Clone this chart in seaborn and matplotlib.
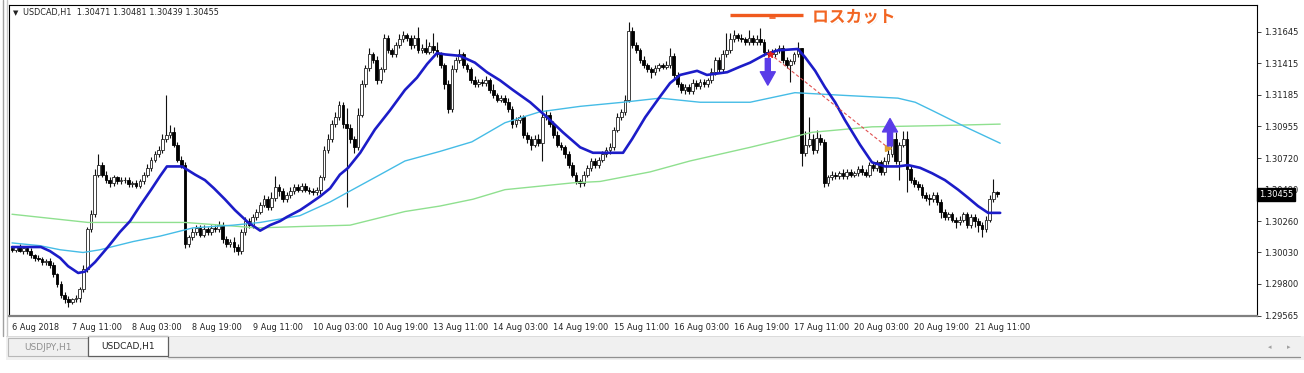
import numpy as np
import pandas as pd
import matplotlib
matplotlib.use("Agg")
import matplotlib.pyplot as plt
import matplotlib.patheffects as pe
from matplotlib.patches import Rectangle
from matplotlib.lines import Line2D
import seaborn as sns

sns.set_style("white")
plt.rcParams['font.family'] = ['DejaVu Sans', 'Noto Sans CJK JP']

# ---------------- data (USDCAD H1, 6 Aug 19:00 -> 21 Aug 17:00) ----------------
first_open = 1.3006
close = [
    1.3005, 1.3007, 1.3004, 1.3006, 1.3004, 1.3001, 1.2999, 1.2998, 1.2996, 1.2997,
    1.2994, 1.2987, 1.2980, 1.2972, 1.2969, 1.2967, 1.2969, 1.2970, 1.2976, 1.2991,
    1.3020, 1.3031, 1.3060, 1.3067, 1.3060, 1.3056, 1.3054, 1.3058, 1.3055, 1.3056,
    1.3056, 1.3053, 1.3054, 1.3052, 1.3055, 1.3060, 1.3065, 1.3071, 1.3075, 1.3078,
    1.3086, 1.3089, 1.3091, 1.3082, 1.3071, 1.3067, 1.3009, 1.3014, 1.3018, 1.3021,
    1.3016, 1.3020, 1.3018, 1.3021, 1.3020, 1.3023, 1.3013, 1.3009, 1.3011, 1.3007,
    1.3004, 1.3018, 1.3026, 1.3023, 1.3029, 1.3033, 1.3038, 1.3042, 1.3036, 1.3043,
    1.3051, 1.3048, 1.3042, 1.3045, 1.3048, 1.3051, 1.3049, 1.3052, 1.3049, 1.3048,
    1.3047, 1.3049, 1.3058, 1.3078, 1.3086, 1.3097, 1.3102, 1.3111, 1.3097, 1.3094,
    1.3086, 1.3080, 1.3104, 1.3126, 1.3138, 1.3148, 1.3144, 1.3129, 1.3137, 1.3160,
    1.3151, 1.3148, 1.3155, 1.3159, 1.3162, 1.3160, 1.3155, 1.3160, 1.3151, 1.3153,
    1.3150, 1.3154, 1.3151, 1.3148, 1.3140, 1.3126, 1.3108, 1.3137, 1.3144, 1.3148,
    1.3140, 1.3137, 1.3129, 1.3126, 1.3128, 1.3127, 1.3129, 1.3122, 1.3118, 1.3115,
    1.3116, 1.3113, 1.3108, 1.3097, 1.3100, 1.3102, 1.3089, 1.3086, 1.3082, 1.3086,
    1.3083, 1.3102, 1.3104, 1.3097, 1.3089, 1.3082, 1.3080, 1.3075, 1.3067, 1.3060,
    1.3055, 1.3054, 1.3060, 1.3065, 1.3070, 1.3067, 1.3071, 1.3075, 1.3078, 1.3080,
    1.3093, 1.3102, 1.3106, 1.3115, 1.3165, 1.3155, 1.3151, 1.3144, 1.3140, 1.3137,
    1.3135, 1.3138, 1.3140, 1.3139, 1.3140, 1.3147, 1.3133, 1.3126, 1.3122, 1.3124,
    1.3121, 1.3127, 1.3125, 1.3128, 1.3126, 1.3129, 1.3135, 1.3144, 1.3137, 1.3148,
    1.3151, 1.3159, 1.3162, 1.3160, 1.3159, 1.3157, 1.3160, 1.3157, 1.3159, 1.3157,
    1.3150, 1.3149, 1.3148, 1.3151, 1.3153, 1.3144, 1.3140, 1.3143, 1.3148, 1.3153,
    1.3076, 1.3082, 1.3086, 1.3078, 1.3087, 1.3084, 1.3054, 1.3058, 1.3060, 1.3059,
    1.3061, 1.3059, 1.3062, 1.3060, 1.3061, 1.3064, 1.3062, 1.3060, 1.3067, 1.3065,
    1.3069, 1.3062, 1.3070, 1.3075, 1.3086, 1.3070, 1.3082, 1.3086, 1.3064, 1.3056,
    1.3053, 1.3051, 1.3045, 1.3043, 1.3042, 1.3045, 1.3040, 1.3033, 1.3029, 1.3031,
    1.3027, 1.3025, 1.3027, 1.3031, 1.3023, 1.3029, 1.3026, 1.3023, 1.3020, 1.3027,
    1.3042, 1.3047, 1.30455,
]
upper_wick_pips = [
    2, 1, 2, 2, 1, 2, 1, 2, 2, 1,   2, 2, 1, 2, 2, 2, 1, 2, 2, 3,
    2, 3, 4, 8, 2, 3, 2, 2, 1, 2,   2, 2, 1, 2, 2, 2, 3, 2, 2, 3,
    4, 29, 5, 4, 2, 3, 2, 2, 3, 2,  2, 3, 2, 2, 2, 3, 2, 2, 2, 3,
    2, 2, 3, 2, 2, 2, 2, 3, 2, 4,   8, 2, 2, 2, 3, 2, 2, 2, 2, 2,
    2, 2, 2, 3, 4, 3, 4, 3, 2, 12,  3, 2, 5, 3, 2, 5, 2, 3, 2, 3,
    2, 2, 2, 4, 3, 2, 2, 2, 8, 3,   6, 3, 10, 6, 2, 2, 3, 3, 2, 4,
    2, 2, 2, 3, 2, 2, 3, 2, 4, 2,   2, 2, 3, 2, 2, 2, 2, 2, 2, 3,
    4, 16, 3, 2, 2, 3, 2, 2, 2, 2,  2, 2, 3, 2, 2, 2, 2, 2, 2, 3,
    2, 3, 2, 3, 7, 3, 2, 2, 3, 2,   2, 2, 2, 2, 3, 6, 2, 2, 2, 2,
    2, 3, 2, 2, 2, 2, 3, 2, 2, 3,   13, 5, 4, 2, 3, 2, 6, 2, 3, 8,
    2, 2, 3, 2, 2, 2, 2, 2, 2, 4,   0, 10, 16, 4, 6, 3, 2, 2, 3, 2,
    2, 3, 2, 2, 2, 2, 3, 2, 2, 2,   2, 2, 3, 5, 5, 5, 2, 6, 6, 2,
    2, 2, 2, 2, 3, 2, 2, 2, 2, 2,   2, 2, 3, 2, 2, 2, 2, 2, 2, 3,
    3, 10, 1,
]
lower_wick_pips = [
    2, 2, 1, 2, 2, 2, 2, 1, 2, 2,   2, 2, 2, 2, 3, 4, 2, 2, 3, 2,
    2, 2, 2, 2, 2, 2, 3, 2, 2, 2,   2, 2, 2, 2, 2, 2, 2, 2, 2, 2,
    2, 2, 2, 2, 2, 2, 3, 2, 2, 2,   2, 2, 2, 2, 2, 2, 3, 2, 2, 4,
    3, 2, 2, 2, 2, 2, 2, 2, 2, 2,   2, 4, 2, 2, 2, 2, 2, 2, 2, 2,
    2, 2, 3, 2, 2, 2, 2, 2, 3, 58,  3, 4, 2, 2, 2, 2, 2, 3, 2, 2,
    2, 2, 2, 2, 2, 2, 3, 2, 2, 2,   2, 2, 2, 2, 2, 3, 3, 2, 2, 2,
    2, 2, 2, 2, 2, 2, 2, 2, 2, 2,   2, 2, 2, 3, 2, 2, 2, 3, 4, 2,
    2, 13, 2, 2, 2, 2, 2, 3, 2, 2,  2, 3, 2, 2, 2, 2, 2, 2, 2, 3,
    2, 2, 2, 2, 2, 2, 2, 2, 2, 2,   4, 2, 2, 2, 2, 2, 2, 2, 2, 3,
    2, 2, 2, 2, 2, 2, 2, 2, 2, 2,   2, 2, 2, 2, 2, 2, 2, 2, 2, 2,
    3, 2, 2, 2, 2, 2, 2, 12, 2, 2,  10, 2, 2, 3, 2, 2, 3, 2, 2, 2,
    2, 2, 2, 2, 2, 2, 2, 2, 2, 2,   2, 2, 2, 2, 2, 2, 14, 2, 17, 2,
    2, 2, 2, 2, 4, 2, 2, 5, 2, 2,   2, 4, 2, 2, 2, 2, 4, 5, 6, 2,
    2, 2, 2,
]

# moving averages (values read at knots along each drawn line)
ma_fast_bars = [0, 5.6, 7.7, 10.1, 12.8, 14.9, 17.6, 19.4, 22.1, 25.5, 28.7, 31.4, 34.0,
                37.0, 39.4, 41.2, 45.2, 48.7, 51.3, 53.7, 56.6, 59.3, 62.8, 66.0, 68.6,
                71.3, 73.1, 76.6, 79.3, 81.9, 84.6, 87.2, 89.4, 92.6, 96.5, 100.5, 104.5,
                107.7, 110.4, 113.0, 115.2, 119.1, 123.1, 126.3, 129.8, 133.2, 137.8,
                142.3, 146.5, 151.1, 154.5, 162.5, 164.9, 168.4, 172.3, 175.0, 177.7,
                182.2, 184.8, 187.5, 190.2, 193.6, 196.3, 200.3, 203.7, 209.0, 210.9,
                213.6, 216.2, 218.9, 221.5, 225.5, 228.7, 232.2, 235.6, 238.3, 241.5,
                244.7, 248.1, 251.6, 254.3, 256.9, 259.6, 262.8]
ma_fast_vals = [1.3007, 1.3007, 1.3007, 1.3004, 1.2999, 1.2993, 1.2988, 1.2989, 1.2996,
                1.3007, 1.3018, 1.3026, 1.3037, 1.3049, 1.3059, 1.3066, 1.3066, 1.3060,
                1.3056, 1.3050, 1.3042, 1.3034, 1.3025, 1.3019, 1.3023, 1.3026, 1.3029,
                1.3034, 1.3039, 1.3044, 1.3050, 1.3060, 1.3065, 1.3076, 1.3093, 1.3107,
                1.3122, 1.3131, 1.3141, 1.3149, 1.3148, 1.3147, 1.3142, 1.3135, 1.3129,
                1.3122, 1.3113, 1.3102, 1.3091, 1.3080, 1.3076, 1.3076, 1.3086, 1.3102,
                1.3117, 1.3127, 1.3133, 1.3136, 1.3133, 1.3134, 1.3135, 1.3139, 1.3142,
                1.3148, 1.3151, 1.3152, 1.3146, 1.3136, 1.3124, 1.3113, 1.3100, 1.3082,
                1.3069, 1.3066, 1.3066, 1.3067, 1.3065, 1.3061, 1.3056, 1.3049, 1.3043,
                1.3037, 1.3032, 1.3032]
ma_mid_bars = [0, 7.4, 12.8, 18.9, 23.4, 32.2, 39.4, 48.1, 58.8, 66.0, 76.6, 84.6, 89.9,
               97.9, 104.5, 113.8, 122.3, 131.1, 140.4, 151.1, 162.5, 172.3, 183.0, 196.3,
               208.2, 221.5, 235.6, 240.2, 244.7, 253.5, 262.8]
ma_mid_vals = [1.3010, 1.3008, 1.3005, 1.3003, 1.3005, 1.3011, 1.3015, 1.3021, 1.3023,
               1.3025, 1.3030, 1.3040, 1.3048, 1.3060, 1.3070, 1.3077, 1.3084, 1.3098,
               1.3106, 1.3110, 1.3113, 1.3116, 1.3113, 1.3113, 1.3120, 1.3118, 1.3116,
               1.3113, 1.3107, 1.3095, 1.3083]
ma_slow_bars = [0, 10.1, 20.2, 46.0, 65.4, 76.6, 89.9, 104.5, 113.8, 122.6, 131.1, 149.2,
                156.4, 169.7, 180.3, 196.3, 212.8, 228.7, 248.1, 262.8]
ma_slow_vals = [1.3031, 1.3028, 1.3025, 1.3025, 1.3021, 1.3022, 1.3023, 1.3033, 1.3037,
                1.3042, 1.3049, 1.3054, 1.3055, 1.3062, 1.3070, 1.3080, 1.3091, 1.3095,
                1.3096, 1.3097]

time_tick_bars = [0, 16, 32, 48, 64, 80, 96, 112, 128, 144, 160, 176, 192, 208, 224, 240, 256]
time_tick_labels = ["6 Aug 2018", "7 Aug 11:00", "8 Aug 03:00", "8 Aug 19:00",
                    "9 Aug 11:00", "10 Aug 03:00", "10 Aug 19:00", "13 Aug 11:00",
                    "14 Aug 03:00", "14 Aug 19:00", "15 Aug 11:00", "16 Aug 03:00",
                    "16 Aug 19:00", "17 Aug 11:00", "20 Aug 03:00", "20 Aug 19:00",
                    "21 Aug 11:00"]
price_ticks = [1.31645, 1.31415, 1.31185, 1.30955, 1.30720, 1.30490, 1.30260,
               1.30030, 1.29800, 1.29565]
current_price = 1.30455
header = "USDCAD,H1  1.30471 1.30481 1.30439 1.30455"
tab_labels = ["USDJPY,H1", "USDCAD,H1"]

# ---------------- figure ----------------
W, H = 1304, 373
fig = plt.figure(figsize=(W / 100, H / 100), dpi=100)
fig.patch.set_facecolor("white")


def fx(px):
    return px / W


def fy(py):
    return 1 - py / H


ax = fig.add_axes([fx(9), fy(316), fx(1257 - 9), (316 - 5) / H])
ax.set_facecolor("white")

c = np.array(close)
o = np.r_[first_open, c[:-1]]
hi = np.maximum(o, c) + np.array(upper_wick_pips) * 1e-4
lo = np.minimum(o, c) - np.array(lower_wick_pips) * 1e-4
xb = np.arange(len(c))
bull = c >= o
bottom = np.minimum(o, c)
height = np.maximum(np.abs(c - o), 0.00003)

ax.vlines(xb, lo, hi, color="#111111", lw=0.8, zorder=2)
ax.bar(xb[bull], height[bull], bottom=bottom[bull], width=0.72, color="white",
       edgecolor="#222222", linewidth=0.6, zorder=3)
ax.bar(xb[~bull], height[~bull], bottom=bottom[~bull], width=0.72, color="black",
       edgecolor="black", linewidth=0.6, zorder=3)

sns.lineplot(x=ma_slow_bars, y=ma_slow_vals, ax=ax, color="#8FE08F", lw=1.0, zorder=4)
sns.lineplot(x=ma_mid_bars, y=ma_mid_vals, ax=ax, color="#45BCE6", lw=1.0, zorder=4)
sns.lineplot(x=ma_fast_bars, y=ma_fast_vals, ax=ax, color="#1C1CC8", lw=1.9, zorder=5)

ax.set_xlim(-0.8, 331.1)
ax.set_ylim(1.29567, 1.31842)

# axes / ticks
for s in ["top", "left", "right"]:
    ax.spines[s].set_color("black")
    ax.spines[s].set_linewidth(0.8)
ax.spines["bottom"].set_color("#808080")
ax.spines["bottom"].set_linewidth(1.6)

ax.yaxis.tick_right()
ax.set_yticks(price_ticks)
ax.set_yticklabels([f"{p:.5f}" for p in price_ticks])
ax.tick_params(axis="y", direction="out", length=3, width=0.6, pad=2,
               labelsize=6.0, colors="#222222")
ax.set_xticks(time_tick_bars)
ax.set_xticklabels(time_tick_labels, ha="left")
ax.tick_params(axis="x", direction="out", length=3, width=0.6, pad=2,
               labelsize=5.9, colors="#222222")
ax.set_xlabel("")
ax.set_ylabel("")
ax.grid(False)

# current price box
ax.text(1.0015, current_price, f"{current_price:.5f}", transform=ax.get_yaxis_transform(),
        ha="left", va="center", fontsize=6.0, color="white", clip_on=False, zorder=10,
        bbox=dict(boxstyle="square,pad=0.2", fc="black", ec="black"))

# header
fig.text(fx(13), fy(13), "\u25BC", fontsize=5, color="#222222", va="center", ha="left")
fig.text(fx(23), fy(13), header, fontsize=5.9, color="#222222", va="center", ha="left")

# annotations: stop-loss line and text
ax.plot([191, 210.4], [1.31769, 1.31769], color="#F05A1E", lw=2.4, solid_capstyle="butt", zorder=6)
ax.plot([201.6, 203], [1.31745, 1.31745], color="#F05A1E", lw=1.2, zorder=6)
ax.text(212.8, 1.31752, "ロスカット", family=["Noto Sans CJK JP"], fontsize=12,
        fontweight="bold", color="#F26522", va="center", ha="left", zorder=7,
        path_effects=[pe.withSimplePatchShadow(offset=(1, -1), shadow_rgbFace="#bbbbbb", alpha=0.6),
                      pe.withStroke(linewidth=2.5, foreground="white")])

# trade line and arrows
ax.plot([201.6, 233], [1.31484, 1.30797], color="#E05050", lw=0.8, ls=(0, (3, 2)), zorder=6)
ax.plot([201.6], [1.31484], marker="*", color="#E02020", ms=5, zorder=7)
ax.plot([233], [1.30797], marker=">", color="#E0A030", ms=4, zorder=7)
arrow_kw = dict(arrowstyle="simple,head_length=0.8,head_width=0.9,tail_width=0.3",
                color="#5A3CE8", mutation_scale=12)
ax.annotate("", xy=(201, 1.31235), xytext=(201, 1.31470), arrowprops=arrow_kw, zorder=8)
ax.annotate("", xy=(233.5, 1.31031), xytext=(233.5, 1.30790), arrowprops=arrow_kw, zorder=8)

# window frame on the left
fig.add_artist(Line2D([fx(3), fx(3)], [fy(0), fy(336)], color="#a0a0a0", lw=1.0))
fig.add_artist(Line2D([fx(6.5), fx(6.5)], [fy(0), fy(336)], color="#c8c8c8", lw=1.0))

# tab bar
fig.add_artist(Rectangle((fx(6), fy(360)), fx(1298), (360 - 336) / H, transform=fig.transFigure,
                         fc="#f0f0f0", ec="none", zorder=0))
fig.add_artist(Rectangle((fx(8), fy(356)), fx(80), 18 / H, transform=fig.transFigure,
                         fc="#f0f0f0", ec="#b8b8b8", lw=0.8))
fig.add_artist(Rectangle((fx(88), fy(356)), fx(80), 20 / H, transform=fig.transFigure,
                         fc="white", ec="#606060", lw=0.9))
fig.text(fx(48), fy(347), tab_labels[0], fontsize=6.5, color="#909090", ha="center", va="center")
fig.text(fx(128), fy(347), tab_labels[1], fontsize=6.5, color="#222222", ha="center", va="center")
fig.add_artist(Line2D([fx(168), fx(1300)], [fy(357), fy(357)], color="#909090", lw=0.9))
fig.add_artist(Line2D([fx(6), fx(1300)], [fy(336), fy(336)], color="#d8d8d8", lw=0.6))
fig.text(fx(1270), fy(347), "\u25C2", fontsize=5, color="#a0a0a0", ha="center", va="center")
fig.text(fx(1289), fy(347), "\u25B8", fontsize=5, color="#a0a0a0", ha="center", va="center")

fig.savefig("out.png", dpi=100, facecolor="white")
